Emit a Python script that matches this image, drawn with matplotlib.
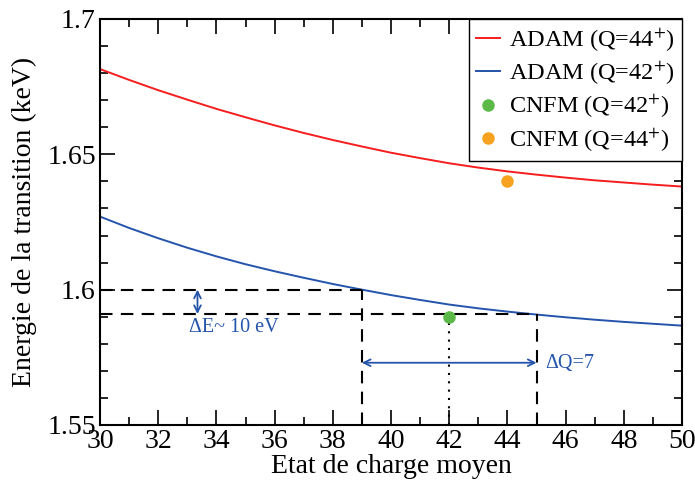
"""Transition energy vs mean charge state (ADAM curves + CNFM points)."""

import matplotlib

matplotlib.use("Agg")
import matplotlib.pyplot as plt  # noqa: E402
from matplotlib.ticker import MultipleLocator  # noqa: E402

# values
charge = list(range(30, 51))
adam_q44 = [1.6815, 1.6775, 1.6737, 1.6702, 1.6668, 1.6637, 1.6607, 1.6579, 1.6553, 1.6529,
            1.6506, 1.6486, 1.6467, 1.6451, 1.6437, 1.6425, 1.6414, 1.6404, 1.6396, 1.6388,
            1.6381]
adam_q42 = [1.6270, 1.6228, 1.6190, 1.6155, 1.6123, 1.6094, 1.6068, 1.6044, 1.6021, 1.6000,
            1.5980, 1.5962, 1.5945, 1.5931, 1.5919, 1.5908, 1.5898, 1.5889, 1.5881, 1.5874,
            1.5867]
cnfm_q42 = (42, 1.590)
cnfm_q44 = (44, 1.640)

# guide lines: (charge, energy) where the Q=42 curve is read
e_high, q_low = 1.600, 39
e_low, q_high = 1.591, 45
arrow_e_x = 33.35
arrow_q_y = 1.573

plt.rcParams["font.family"] = ["Liberation Serif", "DejaVu Serif"]
plt.rcParams["mathtext.fontset"] = "stix"

RED = "#f51d1d"
BLUE = "#2454ab"
GREEN = "#5cb947"
ORANGE = "#f7a21e"

fig = plt.figure(figsize=(6.95, 4.83), dpi=100)
ax = fig.add_axes([100 / 695, 1 - 425 / 483, 582 / 695, 406 / 483])

ax.plot(charge, adam_q44, color=RED, lw=1.4, label="ADAM (Q=44$^{+}$)")
ax.plot(charge, adam_q42, color=BLUE, lw=1.4, label="ADAM (Q=42$^{+}$)")
ax.plot(*cnfm_q42, "o", color=GREEN, ms=8, label="CNFM (Q=42$^{+}$)", zorder=4)
ax.plot(*cnfm_q44, "o", color=ORANGE, ms=8, label="CNFM (Q=44$^{+}$)", zorder=4)

dash = dict(color="black", lw=1.5, dashes=(6, 4))
ax.plot([30, q_low], [e_high, e_high], **dash)
ax.plot([q_low, q_low], [1.55, e_high], **dash)
ax.plot([30, q_high], [e_low, e_low], **dash)
ax.plot([q_high, q_high], [1.55, e_low], **dash)
ax.plot([cnfm_q42[0]] * 2, [1.55, cnfm_q42[1]], color="black", lw=1.5, ls=(0, (1, 3)))

arrow = dict(arrowstyle="<->", color=BLUE, lw=1.3, shrinkA=0, shrinkB=0, mutation_scale=12)
ax.annotate("", xy=(arrow_e_x, e_low), xytext=(arrow_e_x, e_high), arrowprops=arrow)
ax.annotate("", xy=(q_low, arrow_q_y), xytext=(q_high, arrow_q_y), arrowprops=arrow)
ax.text(33.05, 1.5860, "ΔE~ 10 eV", color=BLUE, fontsize=14.5, va="center", ha="left")
ax.text(45.3, 1.5728, "ΔQ=7", color=BLUE, fontsize=14.5, va="center", ha="left")

ax.set_xlim(30, 50)
ax.set_ylim(1.55, 1.7)
ax.xaxis.set_major_locator(MultipleLocator(2))
ax.xaxis.set_minor_locator(MultipleLocator(1))
ax.yaxis.set_major_locator(MultipleLocator(0.05))
ax.yaxis.set_minor_locator(MultipleLocator(0.01))
ax.yaxis.set_major_formatter(plt.FuncFormatter(lambda v, _: f"{v:g}"))
ax.tick_params(which="both", direction="in", top=True, right=True, labelsize=20, width=1.2)
ax.tick_params(which="major", length=11, pad=3)
ax.tick_params(which="minor", length=6)
for s in ax.spines.values():
    s.set_linewidth(1.5)

ax.set_xlabel("Etat de charge moyen", fontsize=20, labelpad=0)
ax.set_ylabel("Energie de la transition (keV)", fontsize=20, labelpad=7)

leg = ax.legend(loc="upper right", fontsize=17.5, fancybox=False, framealpha=1,
                edgecolor="black", handlelength=1.0, handletextpad=0.35,
                borderaxespad=0, borderpad=0.3, labelspacing=0.25)
leg.get_frame().set_linewidth(1.0)

fig.savefig("out.png", dpi=100)
plt.close(fig)
